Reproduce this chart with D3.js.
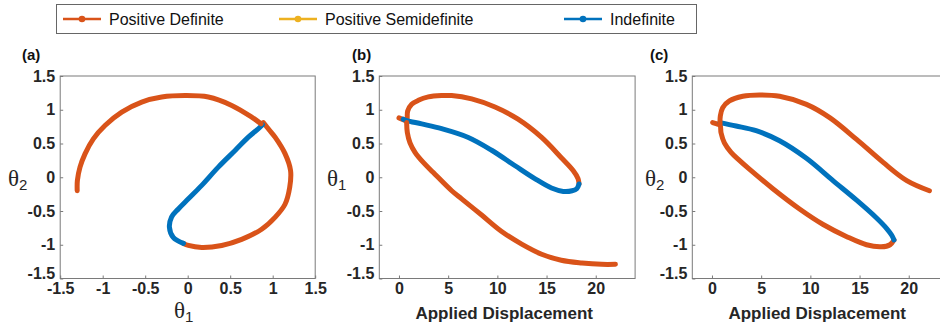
<!DOCTYPE html>
<html><head><meta charset="utf-8">
<script src="https://cdn.jsdelivr.net/npm/d3@7"></script>
<style>body{margin:0;background:#fff}svg{display:block}</style>
</head><body>
<svg id="chart" width="940" height="331"></svg>
<script>
// ---------- data ----------
const legendLabels = ["Positive Definite", "Positive Semidefinite", "Indefinite"];
const seriesColors = ["#D95319", "#EDB120", "#0072BD"];

const angleTicks = [-1.5, -1, -0.5, 0, 0.5, 1, 1.5];
const dispTicks = [0, 5, 10, 15, 20];

// Panel (a): [theta1, theta2]
const aPD1 = [[0.89,0.81],[0.96,0.70],[1.03,0.59],[1.145,0.35],[1.21,0.10],[1.20,-0.15],[1.145,-0.40],[1.03,-0.59],[0.87,-0.77],[0.635,-0.92],[0.40,-1.01],[0.165,-1.04],[0.008,-1.01],[-0.05,-0.98]];
const aIND = [[-0.05,-0.98],[-0.17,-0.89],[-0.215,-0.74],[-0.19,-0.59],[-0.11,-0.47],[0.008,-0.32],[0.165,-0.12],[0.36,0.15],[0.56,0.40],[0.71,0.59],[0.85,0.74],[0.88,0.78]];
const aPD2 = [[0.863,0.792],[0.753,0.891],[0.518,1.064],[0.243,1.188],[-0.031,1.21],[-0.306,1.188],[-0.541,1.114],[-0.776,0.965],[-0.973,0.767],[-1.11,0.569],[-1.208,0.347],[-1.267,0.149],[-1.298,-0.05],[-1.30,-0.20]];

// Panel (b): [displacement, theta1]
const bPD1 = [[0,0.88],[0.5,0.85],[0.78,0.83],[0.88,0.98],[1.29,1.08],[1.97,1.14],[2.98,1.19],[4.34,1.21],[5.36,1.21],[7.39,1.16],[9.76,1.04],[12.1,0.86],[14.5,0.59],[16.5,0.29],[17.7,0.10],[18.2,-0.02],[18.3,-0.10]];
const bIND = [[18.3,-0.10],[18.07,-0.17],[17.6,-0.20],[16.7,-0.21],[15.5,-0.16],[13.8,-0.02],[11.8,0.17],[9.42,0.40],[7.05,0.59],[4.34,0.72],[2.31,0.79],[0.78,0.84],[0.44,0.86]];
const bPD2 = [[0.78,0.81],[0.85,0.66],[1.12,0.51],[1.63,0.37],[2.47,0.22],[3.49,0.07],[5.36,-0.20],[6.37,-0.32],[8.4,-0.56],[10.4,-0.80],[12.47,-0.99],[14.5,-1.14],[16.5,-1.23],[18.6,-1.27],[20.6,-1.29],[22.0,-1.29]];

// Panel (c): [displacement, theta2]
const cPD1 = [[0.07,0.81],[0.5,0.79],[0.82,0.77],[0.92,0.66],[1.26,0.51],[1.94,0.37],[2.79,0.25],[3.8,0.12],[6.19,-0.17],[8.9,-0.47],[11.3,-0.70],[13.7,-0.88],[15.7,-1.00],[17.2,-1.03],[18.1,-1.00],[18.5,-0.93]];
const cIND = [[18.5,-0.93],[18.27,-0.86],[17.76,-0.76],[16.7,-0.60],[14.7,-0.34],[12.3,-0.05],[9.6,0.28],[6.87,0.54],[4.49,0.69],[2.45,0.76],[0.82,0.81]];
const cPD2 = [[0.82,0.78],[0.85,0.91],[1.09,1.03],[1.77,1.13],[3.13,1.20],[4.83,1.22],[6.87,1.20],[9.6,1.08],[12.0,0.88],[14.7,0.56],[17.4,0.22],[19.8,-0.05],[22.1,-0.20]];

// ---------- layout ----------
const svg = d3.select("#chart");
const boxColor = "#7a7a7a";
const textColor = "#262626";

const panels = [
  {tag:"(a)", tagX:22, x0:60.2, x1:315.2, xd:[-1.5,1.5], xt:angleTicks, ylab:["θ","2"], ylabX:8, xlab:["θ","1"], segs:[aPD1,aIND,aPD2]},
  {tag:"(b)", tagX:352, x0:379.3, x1:635.1, xd:[-2,24], xt:dispTicks, ylab:["θ","1"], ylabX:327, xlab:"Applied Displacement", segs:[bPD1,bIND,bPD2]},
  {tag:"(c)", tagX:650, x0:692.3, x1:948.1, xd:[-2,24], xt:dispTicks, ylab:["θ","2"], ylabX:645, xlab:"Applied Displacement", segs:[cPD1,cIND,cPD2]}
];
const yTop = 76, yBot = 278.5;
const segColor = [seriesColors[0], seriesColors[2], seriesColors[0]];

panels.forEach(p => {
  const x = d3.scaleLinear().domain(p.xd).range([p.x0, p.x1]);
  const y = d3.scaleLinear().domain([-1.5, 1.5]).range([yBot, yTop]);
  const g = svg.append("g");

  // box
  g.append("rect").attr("x", p.x0).attr("y", yTop).attr("width", p.x1 - p.x0).attr("height", yBot - yTop)
    .attr("fill", "none").attr("stroke", boxColor).attr("stroke-width", 1);

  // axes
  const yAxis = d3.axisLeft(y).tickValues(angleTicks).tickSizeInner(-3).tickSizeOuter(0).tickPadding(5).tickFormat(d => String(d));
  const ya = g.append("g").attr("transform", `translate(${p.x0},0)`).call(yAxis);
  const xAxis = d3.axisBottom(x).tickValues(p.xt).tickSizeInner(-3).tickSizeOuter(0).tickPadding(4).tickFormat(d => String(d));
  const xa = g.append("g").attr("transform", `translate(0,${yBot})`).call(xAxis);
  [ya, xa].forEach(a => {
    a.select(".domain").remove();
    a.selectAll(".tick line").attr("stroke", boxColor);
    a.selectAll(".tick text").attr("fill", textColor).style("font-family", "Liberation Sans, Arial, sans-serif")
      .style("font-weight", "bold").style("font-size", "16px");
  });
  ya.selectAll(".tick text").filter(d => d === -1.5).attr("dy", "0.0em");

  // curves
  const line = d3.line().x(d => x(d[0])).y(d => y(d[1])).curve(d3.curveCatmullRom.alpha(0.5));
  p.segs.forEach((s, i) => {
    g.append("path").datum(s).attr("d", line).attr("fill", "none")
      .attr("stroke", segColor[i]).attr("stroke-width", 5)
      .attr("stroke-linecap", "round").attr("stroke-linejoin", "round");
  });

  // panel tag
  g.append("text").attr("x", p.tagX).attr("y", 60).text(p.tag)
    .style("font-family", "Liberation Sans, Arial, sans-serif").style("font-weight", "bold").style("font-size", "15px").attr("fill", "#111");

  // y label
  const yl = g.append("text").attr("x", p.ylabX).attr("y", 186)
    .style("font-family", "Liberation Serif, Times New Roman, serif").style("font-size", "23px").attr("fill", textColor);
  yl.append("tspan").text(p.ylab[0]);
  yl.append("tspan").attr("dy", 4).style("font-size", "15px").style("font-family", "Liberation Sans, Arial, sans-serif").text(p.ylab[1]);

  // x label
  if (Array.isArray(p.xlab)) {
    const xl = g.append("text").attr("x", (p.x0 + p.x1) / 2 - 4).attr("y", 318).attr("text-anchor", "middle")
      .style("font-family", "Liberation Serif, Times New Roman, serif").style("font-size", "23px").attr("fill", textColor);
    xl.append("tspan").text(p.xlab[0]);
    xl.append("tspan").attr("dy", 4).style("font-size", "15px").style("font-family", "Liberation Sans, Arial, sans-serif").text(p.xlab[1]);
  } else {
    g.append("text").attr("x", (p.x0 + p.x1) / 2 - 3).attr("y", 319).attr("text-anchor", "middle").text(p.xlab)
      .style("font-family", "Liberation Sans, Arial, sans-serif").style("font-weight", "bold").style("font-size", "17px").attr("fill", textColor);
  }
});

// ---------- legend ----------
const leg = svg.append("g");
leg.append("rect").attr("x", 56.5).attr("y", 4.5).attr("width", 640).attr("height", 29)
  .attr("fill", "#fff").attr("stroke", "#666").attr("stroke-width", 1);
const itemX = [63, 279, 564];
legendLabels.forEach((lab, i) => {
  const gx = itemX[i];
  leg.append("line").attr("x1", gx).attr("x2", gx + 38).attr("y1", 19).attr("y2", 19)
    .attr("stroke", seriesColors[i]).attr("stroke-width", 2.5);
  leg.append("circle").attr("cx", gx + 19).attr("cy", 19).attr("r", 3.3).attr("fill", seriesColors[i]);
  leg.append("text").attr("x", gx + 46).attr("y", 25).text(lab)
    .style("font-family", "Liberation Sans, Arial, sans-serif").style("font-size", "16px").attr("fill", "#111");
});
</script>
</body></html>
